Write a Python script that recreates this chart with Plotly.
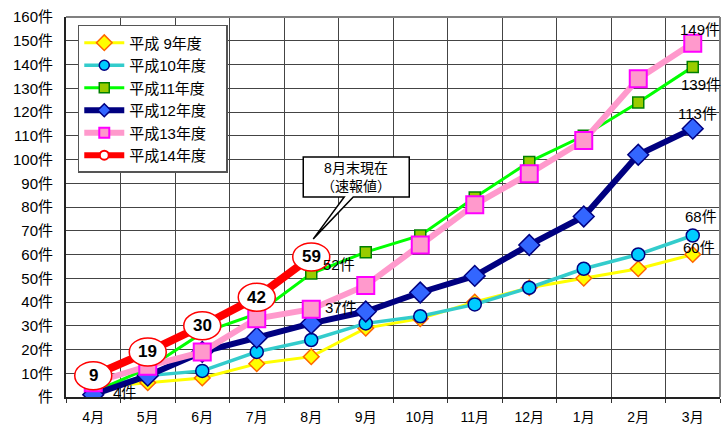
import plotly.graph_objects as go

months = ["4月", "5月", "6月", "7月", "8月", "9月", "10月", "11月", "12月", "1月", "2月", "3月"]
h9 = [4, 6, 8, 14, 17, 29, 33, 40, 46, 50, 54, 60]
h10 = [3, 9, 11, 19, 24, 31, 34, 39, 46, 54, 60, 68]
h11 = [2, 12, 27, 35, 52, 61, 68, 84, 99, 110, 124, 139]
h12 = [1, 9, 19, 25, 31, 36, 44, 51, 64, 76, 102, 113]
h13 = [6, 13, 19, 33, 37, 47, 64, 81, 94, 108, 134, 149]
h14 = [9, 19, 30, 42, 59]
names = ["平成 9年度", "平成10年度", "平成11年度", "平成12年度", "平成13年度", "平成14年度"]
yticks = list(range(0, 161, 10))
yticktext = ["件" if v == 0 else f"{v}件" for v in yticks]

FONT = "Arial, 'Liberation Sans', 'Noto Sans CJK JP', sans-serif"

styles = [
    dict(lc="#FFFF00", lw=3, sym="diamond", ms=12, lms=12, mf="#FFFF00", ml="#FF6600", mlw=1.5),
    dict(lc="#33CCCC", lw=3.5, sym="circle", ms=13, lms=10, mf="#00CCFF", ml="#000080", mlw=1.5),
    dict(lc="#00FF00", lw=3, sym="square", ms=11, lms=10, mf="#99CC00", ml="#008000", mlw=1.5),
    dict(lc="#000080", lw=6, sym="diamond", ms=16, lms=10, mf="#3366FF", ml="#000080", mlw=1.5),
    dict(lc="#FF99CC", lw=6, sym="square", ms=17, lms=10, mf="#FF99CC", ml="#FF00FF", mlw=2),
    dict(lc="#FF0000", lw=8, sym="circle", ms=9, lms=9, mf="#FFFFFF", ml="#FF0000", mlw=2),
]
series = [h9, h10, h11, h12, h13, h14]

fig = go.Figure()
for i, (nm, vals, st) in enumerate(zip(names, series, styles)):
    fig.add_trace(go.Scatter(
        x=months[:len(vals)], y=vals, name=nm, mode="lines+markers",
        legendgroup=f"g{i}", showlegend=False,
        line=dict(color=st["lc"], width=st["lw"]),
        marker=dict(symbol=st["sym"], size=st["ms"], color=st["mf"],
                    line=dict(color=st["ml"], width=st["mlw"])),
    ))
for i, (nm, st) in enumerate(zip(names, styles)):
    fig.add_trace(go.Scatter(
        x=[None], y=[None], name=nm + "\u3000", mode="lines+markers", legendgroup=f"g{i}",
        line=dict(color=st["lc"], width=min(st["lw"], 6)),
        marker=dict(symbol=st["sym"], size=st["lms"], color=st["mf"],
                    line=dict(color=st["ml"], width=st["mlw"])),
    ))

shapes = []
annotations = []
for m, v in zip(months, h14):
    shapes.append(dict(type="circle", xref="x", yref="y", xsizemode="pixel", ysizemode="pixel",
                       xanchor=m, yanchor=v, x0=-18.5, x1=18.5, y0=-14, y1=14,
                       fillcolor="white", line=dict(color="#FF0000", width=1.5), layer="above"))
    annotations.append(dict(x=m, y=v, text=f"<b>{v}</b>", showarrow=False,
                            font=dict(family=FONT, size=17, color="black")))

shapes.append(dict(type="path", xref="x", yref="y", xsizemode="pixel", ysizemode="pixel",
                   xanchor="8月", yanchor=h14[4],
                   path="M -8,60 L 33,60 L 2,18 L 42,60 L 98,60 L 98,100 L -8,100 Z",
                   fillcolor="white", line=dict(color="black", width=1.5), layer="above"))
annotations.append(dict(x="8月", y=h14[4], xshift=45, yshift=80, showarrow=False,
                        text="8月末現在<br>（速報値）",
                        font=dict(family=FONT, size=14, color="black")))

shapes.append(dict(type="line", xref="paper", yref="paper", x0=0, x1=1, y0=1, y1=1,
                   line=dict(color="#808080", width=2), layer="above"))
shapes.append(dict(type="line", xref="paper", yref="paper", x0=1, x1=1, y0=0, y1=1,
                   line=dict(color="#808080", width=2), layer="above"))

def lab(m, v, dx, dy, anchor="left"):
    annotations.append(dict(x=m, y=v, xshift=dx, yshift=dy, showarrow=False,
                            text=f"{v}件", xanchor=anchor,
                            font=dict(family=FONT, size=15, color="black")))

lab("4月", h9[0], 18, -5)
lab("8月", h11[4], 10, 9)
lab("8月", h13[4], 12, 2)
lab("3月", h13[11], 7, 14, "center")
lab("3月", h11[11], 8, -18, "center")
lab("3月", h12[11], 5, 15, "center")
lab("3月", h10[11], 8, 19, "center")
lab("3月", h9[11], 6, 7, "center")

fig.update_layout(
    width=728, height=433,
    margin=dict(l=66, r=8, t=15, b=33),
    paper_bgcolor="white", plot_bgcolor="white",
    font=dict(family=FONT, size=14, color="black"),
    showlegend=True,
    legend=dict(x=0.018, y=0.979, xanchor="left", yanchor="top",
                bgcolor="white", bordercolor="#555555", borderwidth=1.5,
                font=dict(family=FONT, size=15, color="black"),
                itemwidth=40, tracegroupgap=0, itemclick=False),
    shapes=shapes, annotations=annotations,
)
fig.update_xaxes(type="category", categoryorder="array", categoryarray=months,
                 tickson="boundaries", showgrid=True, gridcolor="#444444", gridwidth=1,
                 ticks="outside", ticklen=4, tickcolor="#333333",
                 showline=True, linecolor="#222222", linewidth=2, mirror=False,
                 ticklabelstandoff=6,
                 tickfont=dict(family=FONT, size=14, color="black"),
                 range=[-0.5, 11.5])
fig.update_yaxes(range=[0, 160], tickvals=yticks, ticktext=yticktext,
                 showgrid=True, gridcolor="#444444", gridwidth=1,
                 showline=True, linecolor="#222222", linewidth=2, mirror=False,
                 ticks="", zeroline=False, ticklabelstandoff=8,
                 tickfont=dict(family=FONT, size=15, color="black"))

fig.write_html("out.html")
